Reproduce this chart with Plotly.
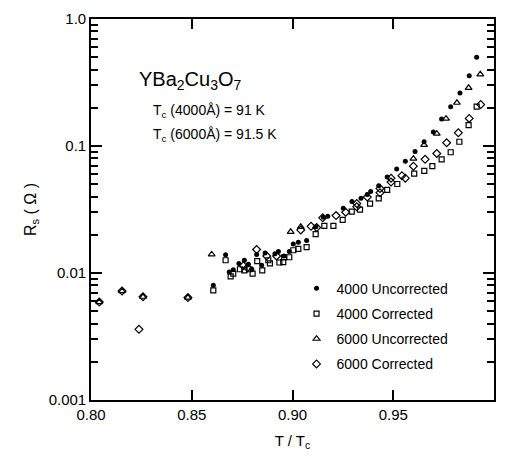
import plotly.graph_objects as go

# Surface resistance of YBa2Cu3O7 films vs reduced temperature
x_4000_unc = [0.8607, 0.8668, 0.8686, 0.8706, 0.8734, 0.8761, 0.8781, 0.8798, 0.8822, 0.8847,
              0.8864, 0.8913, 0.8930, 0.8958, 0.8984, 0.9004, 0.9029, 0.9070, 0.9116, 0.9153,
              0.9175, 0.9252, 0.9295, 0.9340, 0.9371, 0.9388, 0.9428, 0.9470, 0.9517, 0.9560,
              0.9608, 0.9653, 0.9699, 0.9740, 0.9785, 0.9831, 0.9877, 0.9914]
r_4000_unc = [0.0080, 0.0139, 0.0102, 0.0106, 0.0119, 0.0126, 0.0117, 0.0107, 0.0140, 0.0115,
              0.0144, 0.0142, 0.0148, 0.0136, 0.0148, 0.0169, 0.0175, 0.0180, 0.0231, 0.0275,
              0.0280, 0.0323, 0.0365, 0.0387, 0.0415, 0.0438, 0.0487, 0.0571, 0.0658, 0.0758,
              0.0904, 0.108, 0.129, 0.163, 0.204, 0.262, 0.357, 0.499]

x_4000_cor = [0.8607, 0.8668, 0.8693, 0.8706, 0.8739, 0.8761, 0.8786, 0.8802, 0.8825, 0.8850,
              0.8880, 0.8888, 0.8935, 0.8954, 0.8958, 0.8984, 0.9004, 0.9029, 0.9070, 0.9115,
              0.9158, 0.9203, 0.9249, 0.9294, 0.9335, 0.9385, 0.9428, 0.9470, 0.9520, 0.9604,
              0.9654, 0.9694, 0.9740, 0.9785, 0.9828, 0.9874, 0.9914]
r_4000_cor = [0.0073, 0.0126, 0.0094, 0.0099, 0.0107, 0.0105, 0.0107, 0.0099, 0.0124, 0.0105,
              0.0126, 0.0119, 0.0121, 0.0122, 0.0133, 0.0133, 0.0151, 0.0155, 0.0160, 0.0202,
              0.0235, 0.0235, 0.0262, 0.0304, 0.0315, 0.0352, 0.0387, 0.0451, 0.0502, 0.0605,
              0.0638, 0.0694, 0.0785, 0.0893, 0.108, 0.146, 0.204]

x_6000_unc = [0.8041, 0.8154, 0.8258, 0.8481, 0.8599, 0.8991, 0.9041, 0.9600, 0.9653, 0.9716,
              0.9762, 0.9816, 0.9874, 0.9932]
r_6000_unc = [0.0059, 0.0072, 0.0065, 0.0064, 0.0140, 0.0211, 0.0231, 0.0794, 0.102, 0.125,
              0.164, 0.219, 0.287, 0.367]

x_6000_cor = [0.8041, 0.8154, 0.8258, 0.8238, 0.8481, 0.8756, 0.8776, 0.8822, 0.8872, 0.8921,
              0.9041, 0.9092, 0.9120, 0.9150, 0.9216, 0.9264, 0.9319, 0.9319, 0.9371, 0.9434,
              0.9434, 0.9489, 0.9489, 0.9543, 0.9560, 0.9600, 0.9658, 0.9716, 0.9765, 0.9823,
              0.9877, 0.9934]
r_6000_cor = [0.0059, 0.0072, 0.0065, 0.0036, 0.0064, 0.0114, 0.0110, 0.0153, 0.0136, 0.0136,
              0.0218, 0.0233, 0.0228, 0.0272, 0.0283, 0.0301, 0.0352, 0.0332, 0.0396, 0.0462,
              0.0428, 0.0558, 0.0520, 0.0584, 0.0558, 0.0694, 0.0785, 0.0873, 0.106, 0.127,
              0.165, 0.212]

FONT = "Liberation Sans, Arial, sans-serif"

series = [
    ("4000 Uncorrected", x_4000_unc, r_4000_unc, dict(symbol="circle", size=5, color="black")),
    ("4000 Corrected", x_4000_cor, r_4000_cor,
     dict(symbol="square-open", size=5, color="black", line=dict(width=1.2, color="black"))),
    ("6000 Uncorrected", x_6000_unc, r_6000_unc,
     dict(symbol="triangle-up-open", size=6, color="black", line=dict(width=1.2, color="black"))),
    ("6000 Corrected", x_6000_cor, r_6000_cor,
     dict(symbol="diamond-open", size=6, color="black", line=dict(width=1.2, color="black"))),
]

fig = go.Figure()
for i, (name, xs, ys, mk) in enumerate(series):
    fig.add_trace(go.Scatter(x=xs, y=ys, mode="markers", name=name, marker=mk,
                             legendgroup=f"g{i}"))

fig.update_xaxes(
    range=[0.8, 1.0], tick0=0.8, dtick=0.05, tickformat=".2f",
    ticks="inside", ticklen=10, tickwidth=2, tickcolor="black",
    showline=True, linecolor="black", linewidth=1.6, mirror="ticks", showgrid=False, zeroline=False,
    tickfont=dict(family=FONT, size=15, color="black"),
    title=dict(text="T / T<sub>c</sub>", font=dict(family=FONT, size=15, color="black"), standoff=14),
)
fig.update_yaxes(
    type="log", range=[-3, 0], dtick=1, labelalias={"1": "1.0"},
    ticks="inside", ticklen=11, tickwidth=2, tickcolor="black",
    minor=dict(ticks="inside", ticklen=7, tickwidth=1.6, tickcolor="black", showgrid=False),
    showline=True, linecolor="black", linewidth=1.6, mirror="ticks", showgrid=False, zeroline=False,
    tickfont=dict(family=FONT, size=15, color="black"),
    title=dict(text="R<sub>s</sub> ( Ω )", font=dict(family=FONT, size=16, color="black"), standoff=8),
)

fig.add_annotation(x=0.115, y=0.838, xref="paper", yref="paper", xanchor="left", yanchor="middle",
                   text="YBa<sub>2</sub>Cu<sub>3</sub>O<sub>7</sub>", showarrow=False,
                   font=dict(family=FONT, size=20, color="black"))
fig.add_annotation(x=0.15, y=0.758, xref="paper", yref="paper", xanchor="left", yanchor="middle",
                   text="T<sub>c</sub> (4000Å) = 91 K", showarrow=False,
                   font=dict(family=FONT, size=14, color="black"))
fig.add_annotation(x=0.15, y=0.696, xref="paper", yref="paper", xanchor="left", yanchor="middle",
                   text="T<sub>c</sub> (6000Å) = 91.5 K", showarrow=False,
                   font=dict(family=FONT, size=14, color="black"))

fig.update_layout(
    width=507, height=457,
    margin=dict(l=91, r=13, t=10, b=56),
    paper_bgcolor="white", plot_bgcolor="white",
    font=dict(family=FONT, color="black"),
    showlegend=True,
    legend=dict(x=0.51, y=0.334, xanchor="left", yanchor="top", bgcolor="rgba(0,0,0,0)",
                traceorder="grouped", tracegroupgap=4, itemwidth=30,
                font=dict(family=FONT, size=14, color="black")),
)

fig.write_html("out.html")
